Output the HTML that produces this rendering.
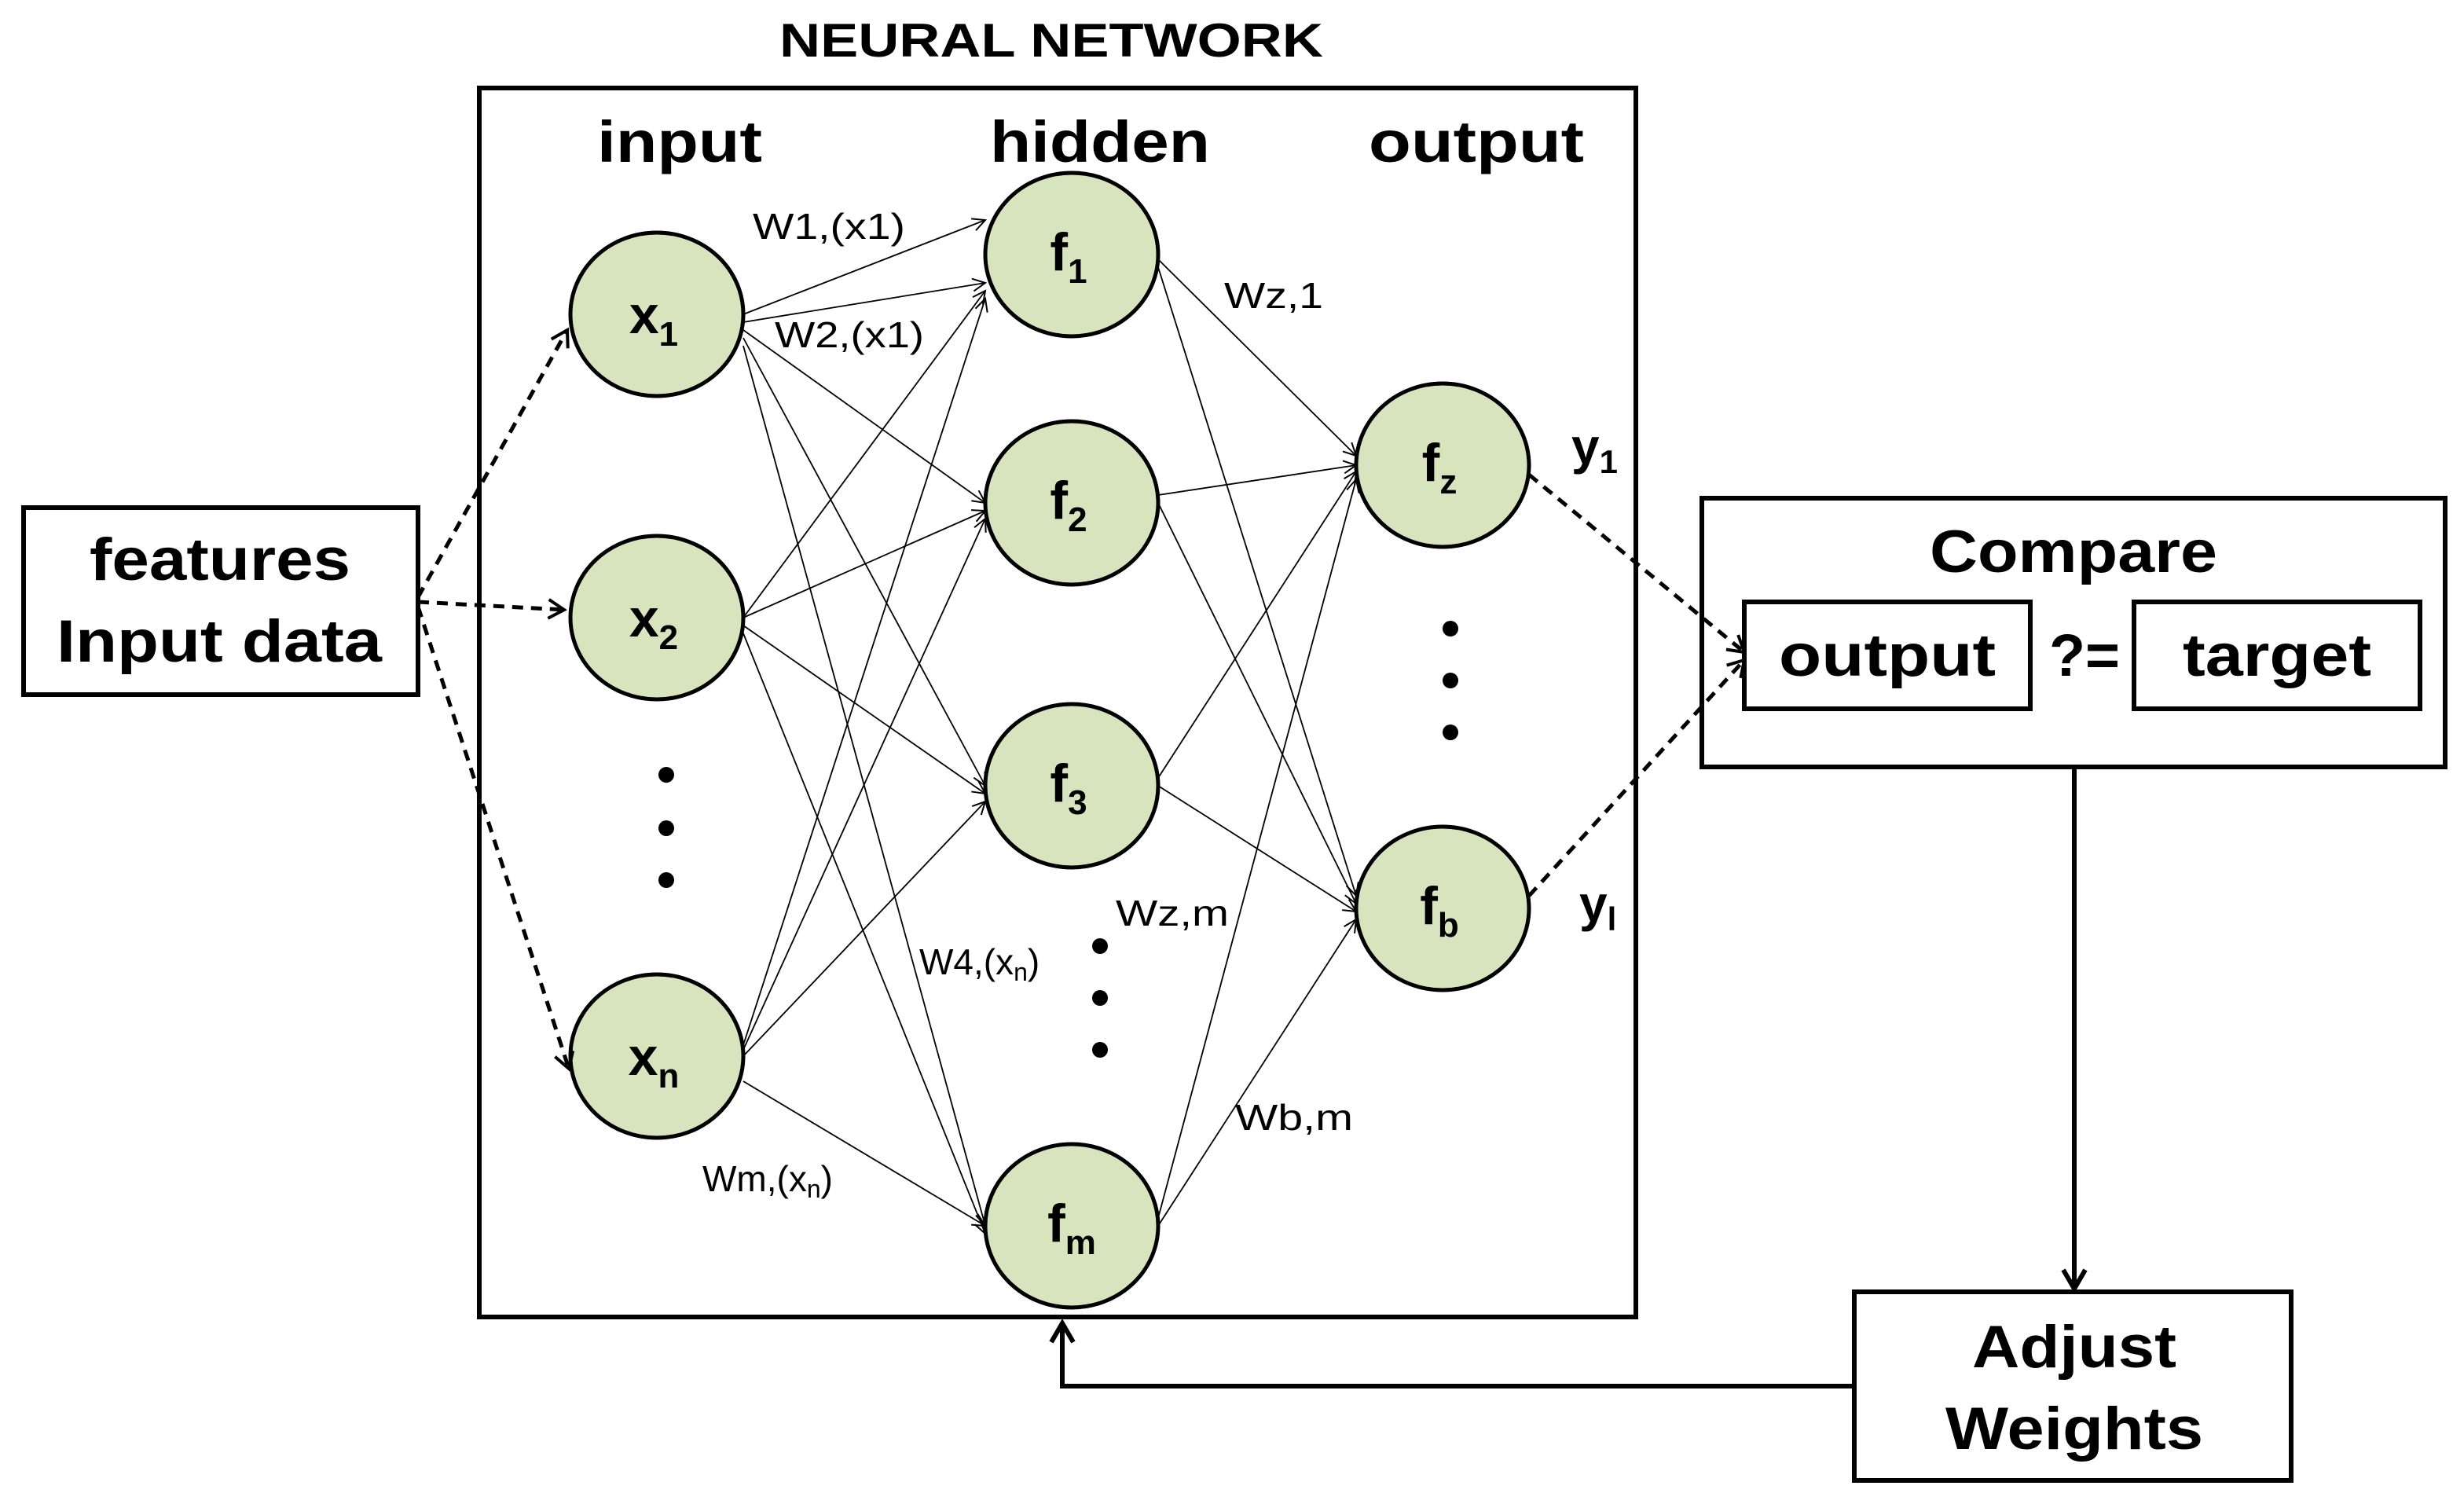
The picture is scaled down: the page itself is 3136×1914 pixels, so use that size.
<!DOCTYPE html>
<html><head><meta charset="utf-8">
<style>
html,body{margin:0;padding:0;background:#fff;}
svg{display:block;}
text{font-family:"Liberation Sans",sans-serif;fill:#000;}
</style></head>
<body>
<svg width="3136" height="1914" viewBox="0 0 1568 957" xmlns="http://www.w3.org/2000/svg">
<defs>
<marker id="a" markerWidth="10" markerHeight="10" refX="9" refY="5" orient="auto" markerUnits="userSpaceOnUse">
<path d="M1,1 L9,5 L1,9" fill="none" stroke="#000" stroke-width="1"/></marker>
<marker id="d" markerWidth="14" markerHeight="14" refX="12" refY="7" orient="auto" markerUnits="userSpaceOnUse">
<path d="M2,1 L12,7 L2,13" fill="none" stroke="#000" stroke-width="2"/></marker>
<marker id="s" markerWidth="18" markerHeight="18" refX="15" refY="9" orient="auto" markerUnits="userSpaceOnUse">
<path d="M3,2 L15,9 L3,16" fill="none" stroke="#000" stroke-width="3"/></marker>
</defs>

<text x="496" y="36" font-weight="bold" font-size="30" textLength="346" lengthAdjust="spacingAndGlyphs">NEURAL NETWORK</text>
<rect x="305" y="56" width="736" height="782" fill="none" stroke="#000" stroke-width="3"/>
<text x="380" y="103" font-weight="bold" font-size="37" textLength="105" lengthAdjust="spacingAndGlyphs">input</text>
<text x="630" y="103" font-weight="bold" font-size="37" textLength="140" lengthAdjust="spacingAndGlyphs">hidden</text>
<text x="871" y="103" font-weight="bold" font-size="37" textLength="137" lengthAdjust="spacingAndGlyphs">output</text>

<g stroke="#000" stroke-width="0.9" fill="none" marker-end="url(#a)">
<line x1="473" y1="200" x2="627" y2="140"/><line x1="473" y1="205" x2="627" y2="180"/>
<line x1="473" y1="210" x2="627" y2="320"/><line x1="473" y1="215" x2="627" y2="500"/>
<line x1="473" y1="220" x2="627" y2="780"/>
<line x1="473" y1="393" x2="627" y2="185"/><line x1="473" y1="393" x2="627" y2="325"/>
<line x1="473" y1="398" x2="627" y2="505"/><line x1="473" y1="403" x2="627" y2="785"/>
<line x1="473" y1="665" x2="627" y2="190"/><line x1="473" y1="668" x2="627" y2="330"/>
<line x1="473" y1="672" x2="627" y2="510"/><line x1="473" y1="688" x2="627" y2="780"/>
<line x1="737" y1="165" x2="863" y2="290"/><line x1="737" y1="170" x2="863" y2="570"/>
<line x1="737" y1="315" x2="863" y2="296"/><line x1="737" y1="320" x2="863" y2="575"/>
<line x1="737" y1="495" x2="863" y2="300"/><line x1="737" y1="500" x2="863" y2="580"/>
<line x1="737" y1="775" x2="863" y2="305"/><line x1="737" y1="780" x2="863" y2="585"/>
</g>

<g fill="#d7e4bd" stroke="#000" stroke-width="2.5">
<ellipse cx="418" cy="200" rx="55" ry="52"/>
<ellipse cx="418" cy="393" rx="55" ry="52"/>
<ellipse cx="418" cy="672" rx="55" ry="52"/>
<ellipse cx="682" cy="162" rx="55" ry="52"/>
<ellipse cx="682" cy="320" rx="55" ry="52"/>
<ellipse cx="682" cy="500" rx="55" ry="52"/>
<ellipse cx="682" cy="780" rx="55" ry="52"/>
<ellipse cx="918" cy="296" rx="55" ry="52"/>
<ellipse cx="918" cy="578" rx="55" ry="52"/>
</g>
<g font-size="34" text-anchor="middle" font-weight="bold">
<text x="416" y="212">x<tspan font-size="22" dy="8">1</tspan></text>
<text x="416" y="405">x<tspan font-size="22" dy="8">2</tspan></text>
<text x="416" y="684">x<tspan font-size="22" dy="8">n</tspan></text>
<text x="680" y="172">f<tspan font-size="22" dy="8">1</tspan></text>
<text x="680" y="330">f<tspan font-size="22" dy="8">2</tspan></text>
<text x="680" y="510">f<tspan font-size="22" dy="8">3</tspan></text>
<text x="682" y="790">f<tspan font-size="22" dy="8">m</tspan></text>
<text x="916" y="306">f<tspan font-size="22" dy="8">z</tspan></text>
<text x="916" y="588">f<tspan font-size="22" dy="8">b</tspan></text>
</g>
<g fill="#000">
<circle cx="424" cy="493" r="5"/><circle cx="424" cy="527" r="5"/><circle cx="424" cy="560" r="5"/>
<circle cx="923" cy="400" r="5"/><circle cx="923" cy="433" r="5"/><circle cx="923" cy="466" r="5"/>
<circle cx="700" cy="602" r="5"/><circle cx="700" cy="635" r="5"/><circle cx="700" cy="668" r="5"/>
</g>
<g font-size="23">
<text x="479" y="152" textLength="97" lengthAdjust="spacingAndGlyphs">W1,(x1)</text>
<text x="493" y="221" textLength="95" lengthAdjust="spacingAndGlyphs">W2,(x1)</text>
<text x="779" y="196" textLength="63" lengthAdjust="spacingAndGlyphs">Wz,1</text>
<text x="710" y="589" textLength="72" lengthAdjust="spacingAndGlyphs">Wz,m</text>
<text x="585" y="620">W4,(x<tspan font-size="16" dy="4">n</tspan><tspan dy="-4">)</tspan></text>
<text x="447" y="758">Wm,(x<tspan font-size="16" dy="4">n</tspan><tspan dy="-4">)</tspan></text>
<text x="786" y="719" textLength="75" lengthAdjust="spacingAndGlyphs">Wb,m</text>
</g>
<text x="1000" y="295" font-size="32" font-weight="bold">y<tspan font-size="21" dy="6">1</tspan></text>
<text x="1005" y="586" font-size="32" font-weight="bold">y<tspan font-size="21" dy="6">l</tspan></text>

<rect x="15" y="323" width="251" height="119" fill="#fff" stroke="#000" stroke-width="3"/>
<text x="57" y="369" font-size="38" font-weight="bold" textLength="166" lengthAdjust="spacingAndGlyphs">features</text>
<text x="36" y="421" font-size="38" font-weight="bold" textLength="207" lengthAdjust="spacingAndGlyphs">Input data</text>

<rect x="1083" y="317" width="473" height="171" fill="#fff" stroke="#000" stroke-width="3"/>
<text x="1228" y="364" font-size="38" font-weight="bold" textLength="183" lengthAdjust="spacingAndGlyphs">Compare</text>
<rect x="1110" y="383" width="182" height="68" fill="#fff" stroke="#000" stroke-width="3"/>
<text x="1132" y="430" font-size="38" font-weight="bold" textLength="138" lengthAdjust="spacingAndGlyphs">output</text>
<text x="1304" y="430" font-size="38" font-weight="bold" textLength="45" lengthAdjust="spacingAndGlyphs">?=</text>
<rect x="1358" y="383" width="182" height="68" fill="#fff" stroke="#000" stroke-width="3"/>
<text x="1389" y="430" font-size="38" font-weight="bold" textLength="120" lengthAdjust="spacingAndGlyphs">target</text>

<g stroke="#000" stroke-width="2.5" stroke-dasharray="7,5" fill="none" marker-end="url(#d)">
<line x1="266" y1="380" x2="361" y2="210"/>
<line x1="266" y1="383" x2="359" y2="388"/>
<line x1="266" y1="386" x2="362" y2="680"/>
<line x1="973" y1="302" x2="1110" y2="415"/>
<line x1="973" y1="570" x2="1110" y2="420"/>
</g>

<line x1="1320" y1="488" x2="1320" y2="820" stroke="#000" stroke-width="3" marker-end="url(#s)"/>
<rect x="1180" y="822" width="278" height="120" fill="#fff" stroke="#000" stroke-width="3"/>
<text x="1255" y="870" font-size="38" font-weight="bold" textLength="130" lengthAdjust="spacingAndGlyphs">Adjust</text>
<text x="1238" y="922" font-size="38" font-weight="bold" textLength="164" lengthAdjust="spacingAndGlyphs">Weights</text>
<polyline points="1180,882 676,882 676,842" fill="none" stroke="#000" stroke-width="3" marker-end="url(#s)"/>
</svg>
</body></html>
